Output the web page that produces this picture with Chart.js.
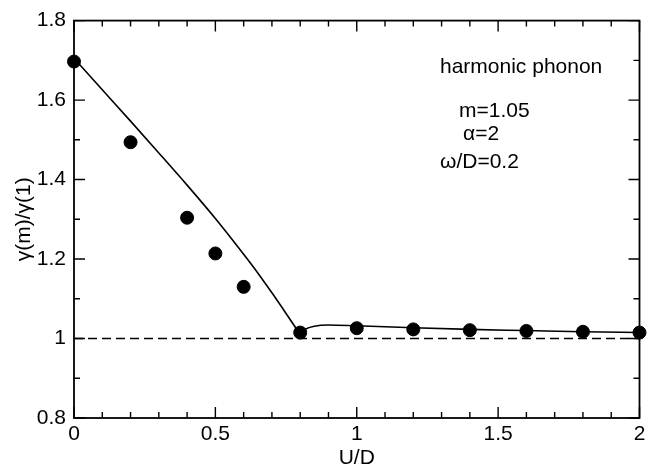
<!DOCTYPE html>
<html>
<head>
<meta charset="utf-8">
<script src="https://cdn.jsdelivr.net/npm/chart.js@4.4.0/dist/chart.umd.min.js"></script>
<style>
  body { margin: 0; background: #fff; }
  #wrap { width: 647px; height: 471px; position: relative; }
</style>
</head>
<body>
<div id="wrap"><canvas id="gammaChart"></canvas></div>
<script>
// filled circles
const pointU = [0, 0.2, 0.4, 0.5, 0.6, 0.8, 1.0, 1.2, 1.4, 1.6, 1.8, 2.0];
const pointGamma = [1.697, 1.494, 1.304, 1.214, 1.130, 1.015, 1.026, 1.023, 1.021, 1.019, 1.017, 1.015];

// solid curve, split in two at the cusp near U/D = 0.8
const curveLowU = [0, 0.1, 0.2, 0.3, 0.4, 0.5, 0.6, 0.65, 0.7, 0.75, 0.8];
const curveLowGamma = [1.705, 1.626, 1.547, 1.467, 1.386, 1.302, 1.212, 1.165, 1.115, 1.063, 1.010];
const curveHighU = [0.8, 0.82, 0.85, 0.9, 1.0, 1.2, 1.4, 1.6, 1.8, 2.0];
const curveHighGamma = [1.010, 1.024, 1.031, 1.034, 1.032, 1.027, 1.023, 1.020, 1.017, 1.015];

// dashed reference line
const refU = [0, 2];
const refGamma = [1, 1];

// tick marks (drawn inward on all four sides)
const xMajorTicks = [0, 0.5, 1, 1.5, 2];
const xMinorTicks = [0.1, 0.2, 0.3, 0.4, 0.6, 0.7, 0.8, 0.9, 1.1, 1.2, 1.3, 1.4, 1.6, 1.7, 1.8, 1.9];
const yMajorTicks = [0.8, 1, 1.2, 1.4, 1.6, 1.8];
const yMinorTicks = [0.9, 1.1, 1.3, 1.5, 1.7];

// annotation text
const noteLines = ['harmonic phonon', 'm=1.05', '\u03B1=2', '\u03C9/D=0.2'];

const FONT = 'Liberation Sans, Arial, Helvetica, sans-serif';

function toPoints(xs, ys) {
    return xs.map((x, i) => ({ x: x, y: ys[i] }));
}

/**
 * Frame box, inward ticks and the text block
 */
const frameTicks = {
    id: 'frameTicks',
    beforeDatasetsDraw(chart) {
        const { ctx, chartArea: a, scales: { x, y } } = chart;
        ctx.save();
        ctx.strokeStyle = '#000';
        ctx.lineWidth = 1.8;
        ctx.strokeRect(a.left, a.top, a.right - a.left, a.bottom - a.top);

        ctx.lineWidth = 1.4;
        ctx.beginPath();
        const xTicks = (vals, len) => {
            vals.forEach(v => {
                const px = x.getPixelForValue(v);
                ctx.moveTo(px, a.bottom); ctx.lineTo(px, a.bottom - len);
                ctx.moveTo(px, a.top); ctx.lineTo(px, a.top + len);
            });
        };
        const yTicks = (vals, len) => {
            vals.forEach(v => {
                const py = y.getPixelForValue(v);
                ctx.moveTo(a.left, py); ctx.lineTo(a.left + len, py);
                ctx.moveTo(a.right, py); ctx.lineTo(a.right - len, py);
            });
        };
        xTicks(xMajorTicks, 11);
        xTicks(xMinorTicks, 6);
        yTicks(yMajorTicks, 11);
        yTicks(yMinorTicks, 6);
        ctx.stroke();
        ctx.restore();
    },
    afterDraw(chart) {
        const ctx = chart.ctx;
        const spots = [[440, 73], [459, 117], [463, 140], [440, 168]];
        ctx.save();
        ctx.fillStyle = '#000';
        ctx.font = '21px ' + FONT;
        ctx.textAlign = 'left';
        ctx.textBaseline = 'alphabetic';
        noteLines.forEach((t, i) => ctx.fillText(t, spots[i][0], spots[i][1]));
        ctx.restore();
    }
};

Chart.defaults.font.family = FONT;
Chart.defaults.color = '#000';

const ctx = document.getElementById('gammaChart');
new Chart(ctx, {
    type: 'scatter',
    data: {
        datasets: [{
            label: 'points',
            data: toPoints(pointU, pointGamma),
            backgroundColor: '#000',
            borderColor: '#000',
            pointRadius: 6.5,
            pointHoverRadius: 6.5,
            showLine: false,
            clip: false
        }, {
            label: 'curve low',
            data: toPoints(curveLowU, curveLowGamma),
            borderColor: '#000',
            borderWidth: 1.6,
            pointRadius: 0,
            showLine: true,
            cubicInterpolationMode: 'monotone'
        }, {
            label: 'curve high',
            data: toPoints(curveHighU, curveHighGamma),
            borderColor: '#000',
            borderWidth: 1.6,
            pointRadius: 0,
            showLine: true,
            cubicInterpolationMode: 'monotone'
        }, {
            label: 'gamma = 1',
            data: toPoints(refU, refGamma),
            borderColor: '#000',
            borderWidth: 1.5,
            borderDash: [9, 5],
            pointRadius: 0,
            showLine: true
        }]
    },
    options: {
        responsive: true,
        maintainAspectRatio: false,
        animation: false,
        layout: {
            padding: { top: 20, right: 5, left: 0, bottom: 0 }
        },
        plugins: {
            legend: { display: false },
            tooltip: { enabled: false }
        },
        scales: {
            x: {
                type: 'linear',
                min: 0,
                max: 2,
                grid: { display: false, drawTicks: false },
                border: { display: false },
                ticks: {
                    stepSize: 0.5,
                    autoSkip: false,
                    maxRotation: 0,
                    padding: 4,
                    font: { size: 21 },
                    callback: v => String(+v.toFixed(2))
                },
                title: {
                    display: true,
                    text: 'U/D',
                    font: { size: 21 },
                    padding: { top: 0, bottom: 0 }
                },
                afterFit: scale => {
                    scale.height = 53;
                    scale.paddingLeft = 0;
                    scale.paddingRight = 0;
                }
            },
            y: {
                type: 'linear',
                min: 0.8,
                max: 1.8,
                grid: { display: false, drawTicks: false },
                border: { display: false },
                ticks: {
                    stepSize: 0.2,
                    autoSkip: false,
                    padding: 8,
                    font: { size: 21 },
                    callback: v => String(+v.toFixed(2))
                },
                title: {
                    display: true,
                    text: '\u03B3(m)/\u03B3(1)',
                    font: { size: 21 },
                    padding: { top: 12, bottom: 0 }
                },
                afterFit: scale => {
                    scale.width = 74;
                }
            }
        }
    },
    plugins: [frameTicks]
});
</script>
</body>
</html>
